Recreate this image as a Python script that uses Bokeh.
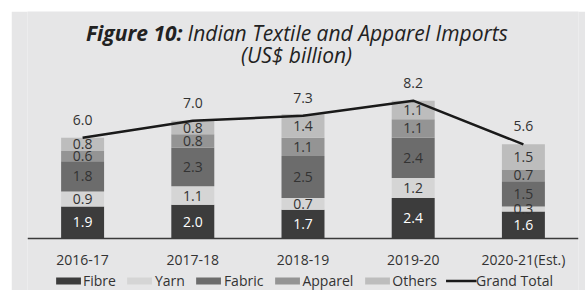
from bokeh.plotting import figure
from bokeh.models import ColumnDataSource, Label, Legend, LegendItem, FactorRange, Range1d
from bokeh.core.properties import value
from bokeh.embed import file_html
from bokeh.resources import INLINE

years = ["2016-17", "2017-18", "2018-19", "2019-20", "2020-21(Est.)"]
fibre = [1.9, 2.0, 1.7, 2.4, 1.6]
yarn = [0.9, 1.1, 0.7, 1.2, 0.3]
fabric = [1.8, 2.3, 2.5, 2.4, 1.5]
apparel = [0.6, 0.8, 1.1, 1.1, 0.7]
others = [0.8, 0.8, 1.4, 1.1, 1.5]
grand_total = [6.0, 7.0, 7.3, 8.2, 5.6]

series = ["Fibre", "Yarn", "Fabric", "Apparel", "Others"]
values = [fibre, yarn, fabric, apparel, others]
colors = ["#3c3c3c", "#d5d5d5", "#6c6c6c", "#949494", "#bdbdbd"]
label_colors = ["#ffffff", "#333333", "#333333", "#333333", "#333333"]

BG = "#e6e6e7"
FONT = "Open Sans"

p = figure(x_range=FactorRange(*years, range_padding=0), y_range=Range1d(-3.10, 13.51),
           width=574, height=279, output_backend="svg", toolbar_location=None,
           min_border_left=16, min_border_right=7, min_border_top=0, min_border_bottom=0)
p.styles = {"margin-left": "11px", "margin-top": "11px"}
p.background_fill_color = BG
p.border_fill_color = BG
p.outline_line_color = None
p.grid.grid_line_color = None
p.yaxis.visible = False

data = {"years": years}
for s, v in zip(series, values):
    data[s] = v
src = ColumnDataSource(data)
renderers = p.vbar_stack(series, x="years", width=0.39, color=colors, source=src, line_width=0)

# segment labels
bottoms = [0.0] * len(years)
for s, v, lc in zip(series, values, label_colors):
    mids = [b + val / 2 for b, val in zip(bottoms, v)]
    txt = ["%.1f" % val for val in v]
    p.text(x=years, y=mids, text=txt, text_align="center", text_baseline="middle",
           text_font=value(FONT), text_font_size="14px", text_color=lc)
    bottoms = [b + val for b, val in zip(bottoms, v)]

line_r = p.line(x=years, y=grand_total, line_color="#1a1a1a", line_width=2.5)
p.text(x=years, y=grand_total, text=["%.1f" % t for t in grand_total], text_align="center",
       text_baseline="bottom", y_offset=-13, text_font=value(FONT), text_font_size="14px",
       text_color="#333333")

ax = p.xaxis[0]
ax.fixed_location = 0
ax.axis_line_color = "#3a3a3a"
ax.axis_line_width = 1.5
ax.major_tick_line_color = None
ax.minor_tick_line_color = None
ax.major_label_standoff = 6
ax.major_label_text_font = FONT
ax.major_label_text_font_size = "14px"
ax.major_label_text_color = "#333333"

items = [LegendItem(label=s, renderers=[r]) for s, r in zip(series, renderers)]
items.append(LegendItem(label="Grand Total", renderers=[line_r]))
legend = Legend(items=items, orientation="horizontal", location="bottom_center",
                glyph_width=31, glyph_height=9, label_height=14, label_standoff=0, spacing=8,
                padding=0, margin=0, background_fill_alpha=0, border_line_alpha=0,
                label_text_font=FONT, label_text_font_size="14px", label_text_color="#333333")
p.add_layout(legend, "center")

t1a = Label(x=155, y=258, x_units="screen", y_units="screen", text="Figure 10:",
            text_font=FONT, text_font_size="21px", text_font_style="bold italic",
            text_color="#222222", text_align="right", text_baseline="alphabetic")
t1b = Label(x=160, y=258, x_units="screen", y_units="screen", text="Indian Textile and Apparel Imports",
            text_font=FONT, text_font_size="21px", text_font_style="italic",
            text_color="#222222", text_align="left", text_baseline="alphabetic")
t2 = Label(x=269, y=236, x_units="screen", y_units="screen", text="(US$ billion)",
           text_font=FONT, text_font_size="21px", text_font_style="italic",
           text_color="#222222", text_align="center", text_baseline="alphabetic")
for t in (t1a, t1b, t2):
    p.add_layout(t)

open("out.html", "w").write(file_html(p, INLINE))
